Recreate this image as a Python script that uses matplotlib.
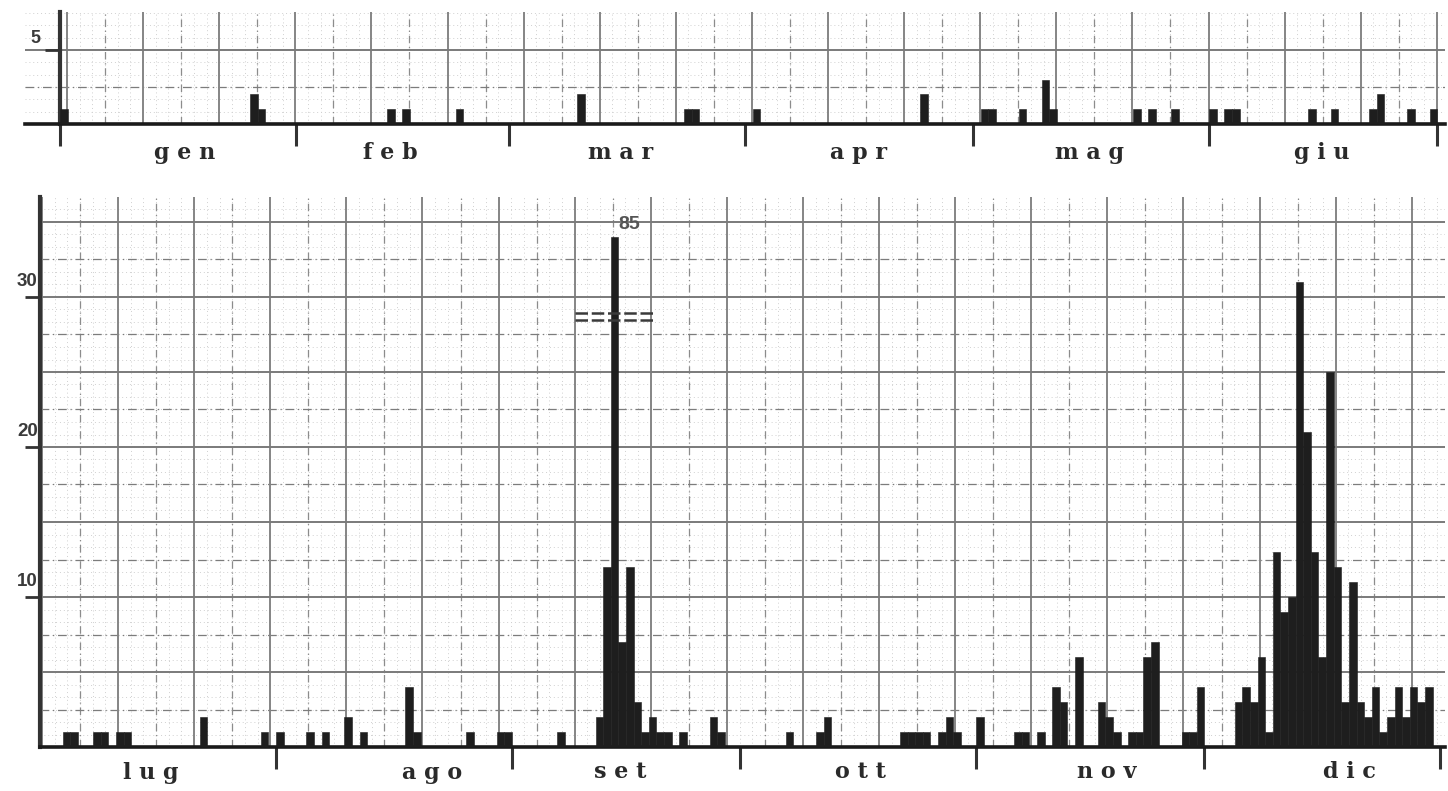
import numpy as np
import matplotlib
matplotlib.use("Agg")
import matplotlib.pyplot as plt

# ---------------- data ----------------
# first half of the year (day 0 = 1 January)
months_h1 = ["g e n", "f e b", "m a r", "a p r", "m a g", "g i u"]
month_len_h1 = [31, 28, 31, 30, 31, 30]
bar_day_h1 = [0, 25, 26, 43, 45, 52, 68, 82, 83, 91, 113, 121, 122, 126, 129, 130,
              141, 143, 146, 151, 153, 154, 164, 167, 172, 173, 177, 180]
bar_val_h1 = [1, 2, 1, 1, 1, 1, 2, 1, 1, 1, 2, 1, 1, 1, 3, 1,
              1, 1, 1, 1, 1, 1, 1, 1, 1, 2, 1, 1]

# second half of the year (day 0 = 1 July)
months_h2 = ["l u g", "a g o", "s e t", "o t t", "n o v", "d i c"]
month_len_h2 = [31, 31, 30, 31, 30, 31]
bar_day_h2 = [3, 4, 7, 8, 10, 11, 21, 29, 31, 35, 37, 40, 42, 48, 49, 56, 60, 61,
              68, 73, 74, 75, 76, 77, 78, 79, 80, 81, 82, 84, 88, 89,
              98, 102, 103, 113, 114, 115, 116, 118, 119, 120, 123,
              128, 129, 131, 133, 134, 136, 139, 140, 141, 143, 144, 145, 146,
              150, 151, 152,
              157, 158, 159, 160, 161, 162, 163, 164, 165, 166, 167, 168, 169,
              170, 171, 172, 173, 174, 175, 176, 177, 178, 179, 180, 181, 182]
bar_val_h2 = [1, 1, 1, 1, 1, 1, 2, 1, 1, 1, 1, 2, 1, 4, 1, 1, 1, 1,
              1, 2, 12, 85, 7, 12, 3, 1, 2, 1, 1, 1, 2, 1,
              1, 1, 2, 1, 1, 1, 1, 1, 2, 1, 2,
              1, 1, 1, 4, 3, 6, 3, 2, 1, 1, 1, 6, 7,
              1, 1, 4,
              3, 4, 3, 6, 1, 13, 9, 10, 31, 21, 13, 6, 25,
              12, 3, 11, 3, 2, 4, 1, 2, 4, 2, 4, 3, 4]
break_cap = 34          # bars above this value are drawn broken
yticks_h1 = [5]
yticks_h2 = [10, 20, 30]

# ---------------- layout ----------------
W, H = 1448, 791
PX = 7.61               # pixels per day
fig = plt.figure(figsize=(W / 100, H / 100), dpi=100)
fig.patch.set_facecolor("white")


def axes_px(x0, x1, y0, y1):
    return fig.add_axes([x0 / W, 1 - y1 / H, (x1 - x0) / W, (y1 - y0) / H])


BAR = "#1e1e1e"
INK = "#2a2a2a"


def graph_paper(ax, x0, xmax, ymax):
    # fine dotted grid
    for x in np.arange(x0, xmax, 10 / 6):
        ax.axvline(x, color="#d0d0d0", lw=0.7, ls=(0, (1, 3)), zorder=0)
    for y in np.arange(2.5 / 3, ymax, 2.5 / 3):
        ax.axhline(y, color="#d0d0d0", lw=0.7, ls=(0, (1, 3)), zorder=0)
    # half lines (dash-dot)
    for x in np.arange(x0 + 5, xmax, 10):
        ax.axvline(x, color="#8c8c8c", lw=0.9, ls=(0, (6, 3, 1, 3)), zorder=0.5)
    for y in np.arange(2.5, ymax - 0.5, 5):
        ax.axhline(y, color="#7c7c7c", lw=0.9, ls=(0, (7, 3, 1, 3)), zorder=0.5)
    # main lines
    for x in np.arange(x0, xmax, 10):
        ax.axvline(x, color="#858585", lw=1.4, zorder=0.6)
    for y in np.arange(5, ymax, 5):
        ax.axhline(y, color="#7a7a7a", lw=1.4, zorder=0.6)


def style(ax, month_len, tick_at_zero):
    for s in ["top", "right"]:
        ax.spines[s].set_visible(False)
    ax.spines["left"].set_position(("data", 0))
    ax.spines["left"].set_linewidth(3)
    ax.spines["left"].set_color("#333333")
    ax.spines["bottom"].set_linewidth(2.6)
    ax.spines["bottom"].set_color("#1a1a1a")
    bounds = np.cumsum(month_len)
    ticks = ([0] if tick_at_zero else []) + list(bounds)
    ax.set_xticks(ticks)
    ax.set_xticklabels([""] * len(ticks))
    ax.tick_params(axis="x", direction="out", length=16, width=2.2, color="#333333")
    ax.tick_params(axis="y", direction="out", length=11, width=2.0, color="#333333")
    ax.set_facecolor("none")


# ---- top panel (gen - giu) ----
ax1 = axes_px(25, 1445, 12, 124)
ax1.set_xlim((25 - 60) / PX, (1445 - 60) / PX)
ax1.set_ylim(0, 112 / 14.8)
graph_paper(ax1, 0.92, 182, 112 / 14.8)
ax1.bar(bar_day_h1, bar_val_h1, width=1.0, align="edge", color=BAR,
        edgecolor=BAR, linewidth=0.4, zorder=3)
style(ax1, month_len_h1, True)
ax1.set_yticks(yticks_h1)
ax1.set_yticklabels([""] * len(yticks_h1))
for v in yticks_h1:
    ax1.text(-2.6, v + 0.8, str(v), ha="right", va="center", fontsize=13,
             fontweight="bold", color="#3a3a3a", family="Liberation Sans")
label_x_h1 = [16.4, 43.4, 73.6, 104.9, 135.3, 165.8]
for lx, name in zip(label_x_h1, months_h1):
    ax1.text(lx, -2.36, name, ha="center", va="baseline", fontsize=16,
             fontweight="bold", color=INK, family="DejaVu Serif")

# ---- bottom panel (lug - dic) ----
ax2 = axes_px(40, 1445, 197, 747)
ax2.set_xlim(0, 1405 / PX)
ax2.set_ylim(0, 550 / 15)
graph_paper(ax2, 0.26, 184.5, 550 / 15)
vals2 = np.array(bar_val_h2, dtype=float)
shown2 = np.minimum(vals2, break_cap)
ax2.bar(bar_day_h2, shown2, width=1.0, align="edge", color=BAR,
        edgecolor=BAR, linewidth=0.4, zorder=3)
style(ax2, month_len_h2, False)
ax2.set_yticks(yticks_h2)
ax2.set_yticklabels([""] * len(yticks_h2))
for v in yticks_h2:
    ax2.text(-0.3, v + 1.0, str(v), ha="right", va="center", fontsize=13.5,
             fontweight="bold", color="#3a3a3a", family="Liberation Sans")
label_x_h2 = [14.5, 51.5, 76.2, 107.8, 140.2, 172.1]
for lx, name in zip(label_x_h2, months_h2):
    ax2.text(lx, -2.1, name, ha="center", va="baseline", fontsize=16,
             fontweight="bold", color=INK, family="DejaVu Serif")

# broken bar: true value above it and break marks
for d, v in zip(bar_day_h2, bar_val_h2):
    if v > break_cap:
        ax2.text(d + 2.4, break_cap + 0.85, str(v), ha="center", va="center",
                 fontsize=14, fontweight="bold", color="#555555",
                 family="Liberation Sans", zorder=5)
        for yy in (break_cap - 5.1, break_cap - 5.55):
            ax2.plot([d - 4.7, d + 5.6], [yy, yy], color="#3a3a3a", lw=1.8,
                     ls=(0, (5, 1.5)), zorder=5, solid_capstyle="butt")

fig.savefig("out.png", dpi=100, facecolor="white")
